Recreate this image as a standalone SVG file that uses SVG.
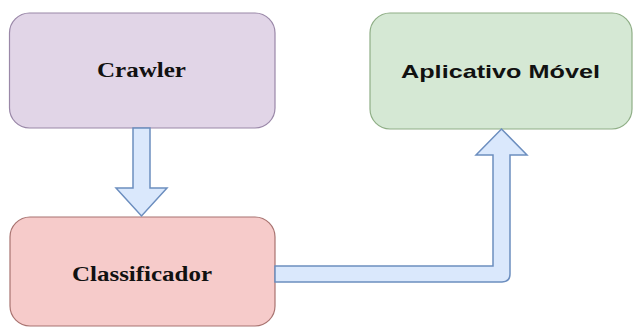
<svg xmlns="http://www.w3.org/2000/svg" width="633" height="327" viewBox="0 0 633 327">
<style>
.box{stroke-width:1.2}
.arrow{fill:#dae8fc;stroke:#6c8ebf;stroke-width:1.5;stroke-linejoin:miter}
.serif{font-family:"Liberation Serif","Times New Roman",serif;font-weight:bold;font-size:21px;fill:#111}
.sans{font-family:"Liberation Sans",Arial,sans-serif;font-weight:bold;font-size:19px;fill:#111}
</style>
<rect width="633" height="327" fill="#ffffff"/>
<g id="crawler">
<rect class="box" x="9.5" y="13" width="265.5" height="115" rx="20" fill="#e1d5e7" stroke="#9a88a8"/>
<text class="serif" x="97" y="77" textLength="89" lengthAdjust="spacingAndGlyphs">Crawler</text>
</g>
<g id="classificador">
<rect class="box" x="10" y="217" width="265" height="109" rx="20" fill="#f6cbca" stroke="#a87370"/>
<text class="serif" x="72" y="281" textLength="140" lengthAdjust="spacingAndGlyphs">Classificador</text>
</g>
<g id="aplicativo">
<rect class="box" x="370" y="13" width="262" height="116" rx="20" fill="#d5e8d4" stroke="#8fae86"/>
<text class="sans" x="401" y="78" textLength="199" lengthAdjust="spacingAndGlyphs">Aplicativo Móvel</text>
</g>
<g id="connectors">
<path class="arrow" d="M133,128 L150,128 L150,188 L167,188 L141.5,216 L116,188 L133,188 Z"/>
<path class="arrow" d="M275,266 L493,266 L493,155 L476,155 L501.5,129 L527,155 L510,155 L510,274 Q510,282 502,282 L275,282 Z"/>
</g>
</svg>
